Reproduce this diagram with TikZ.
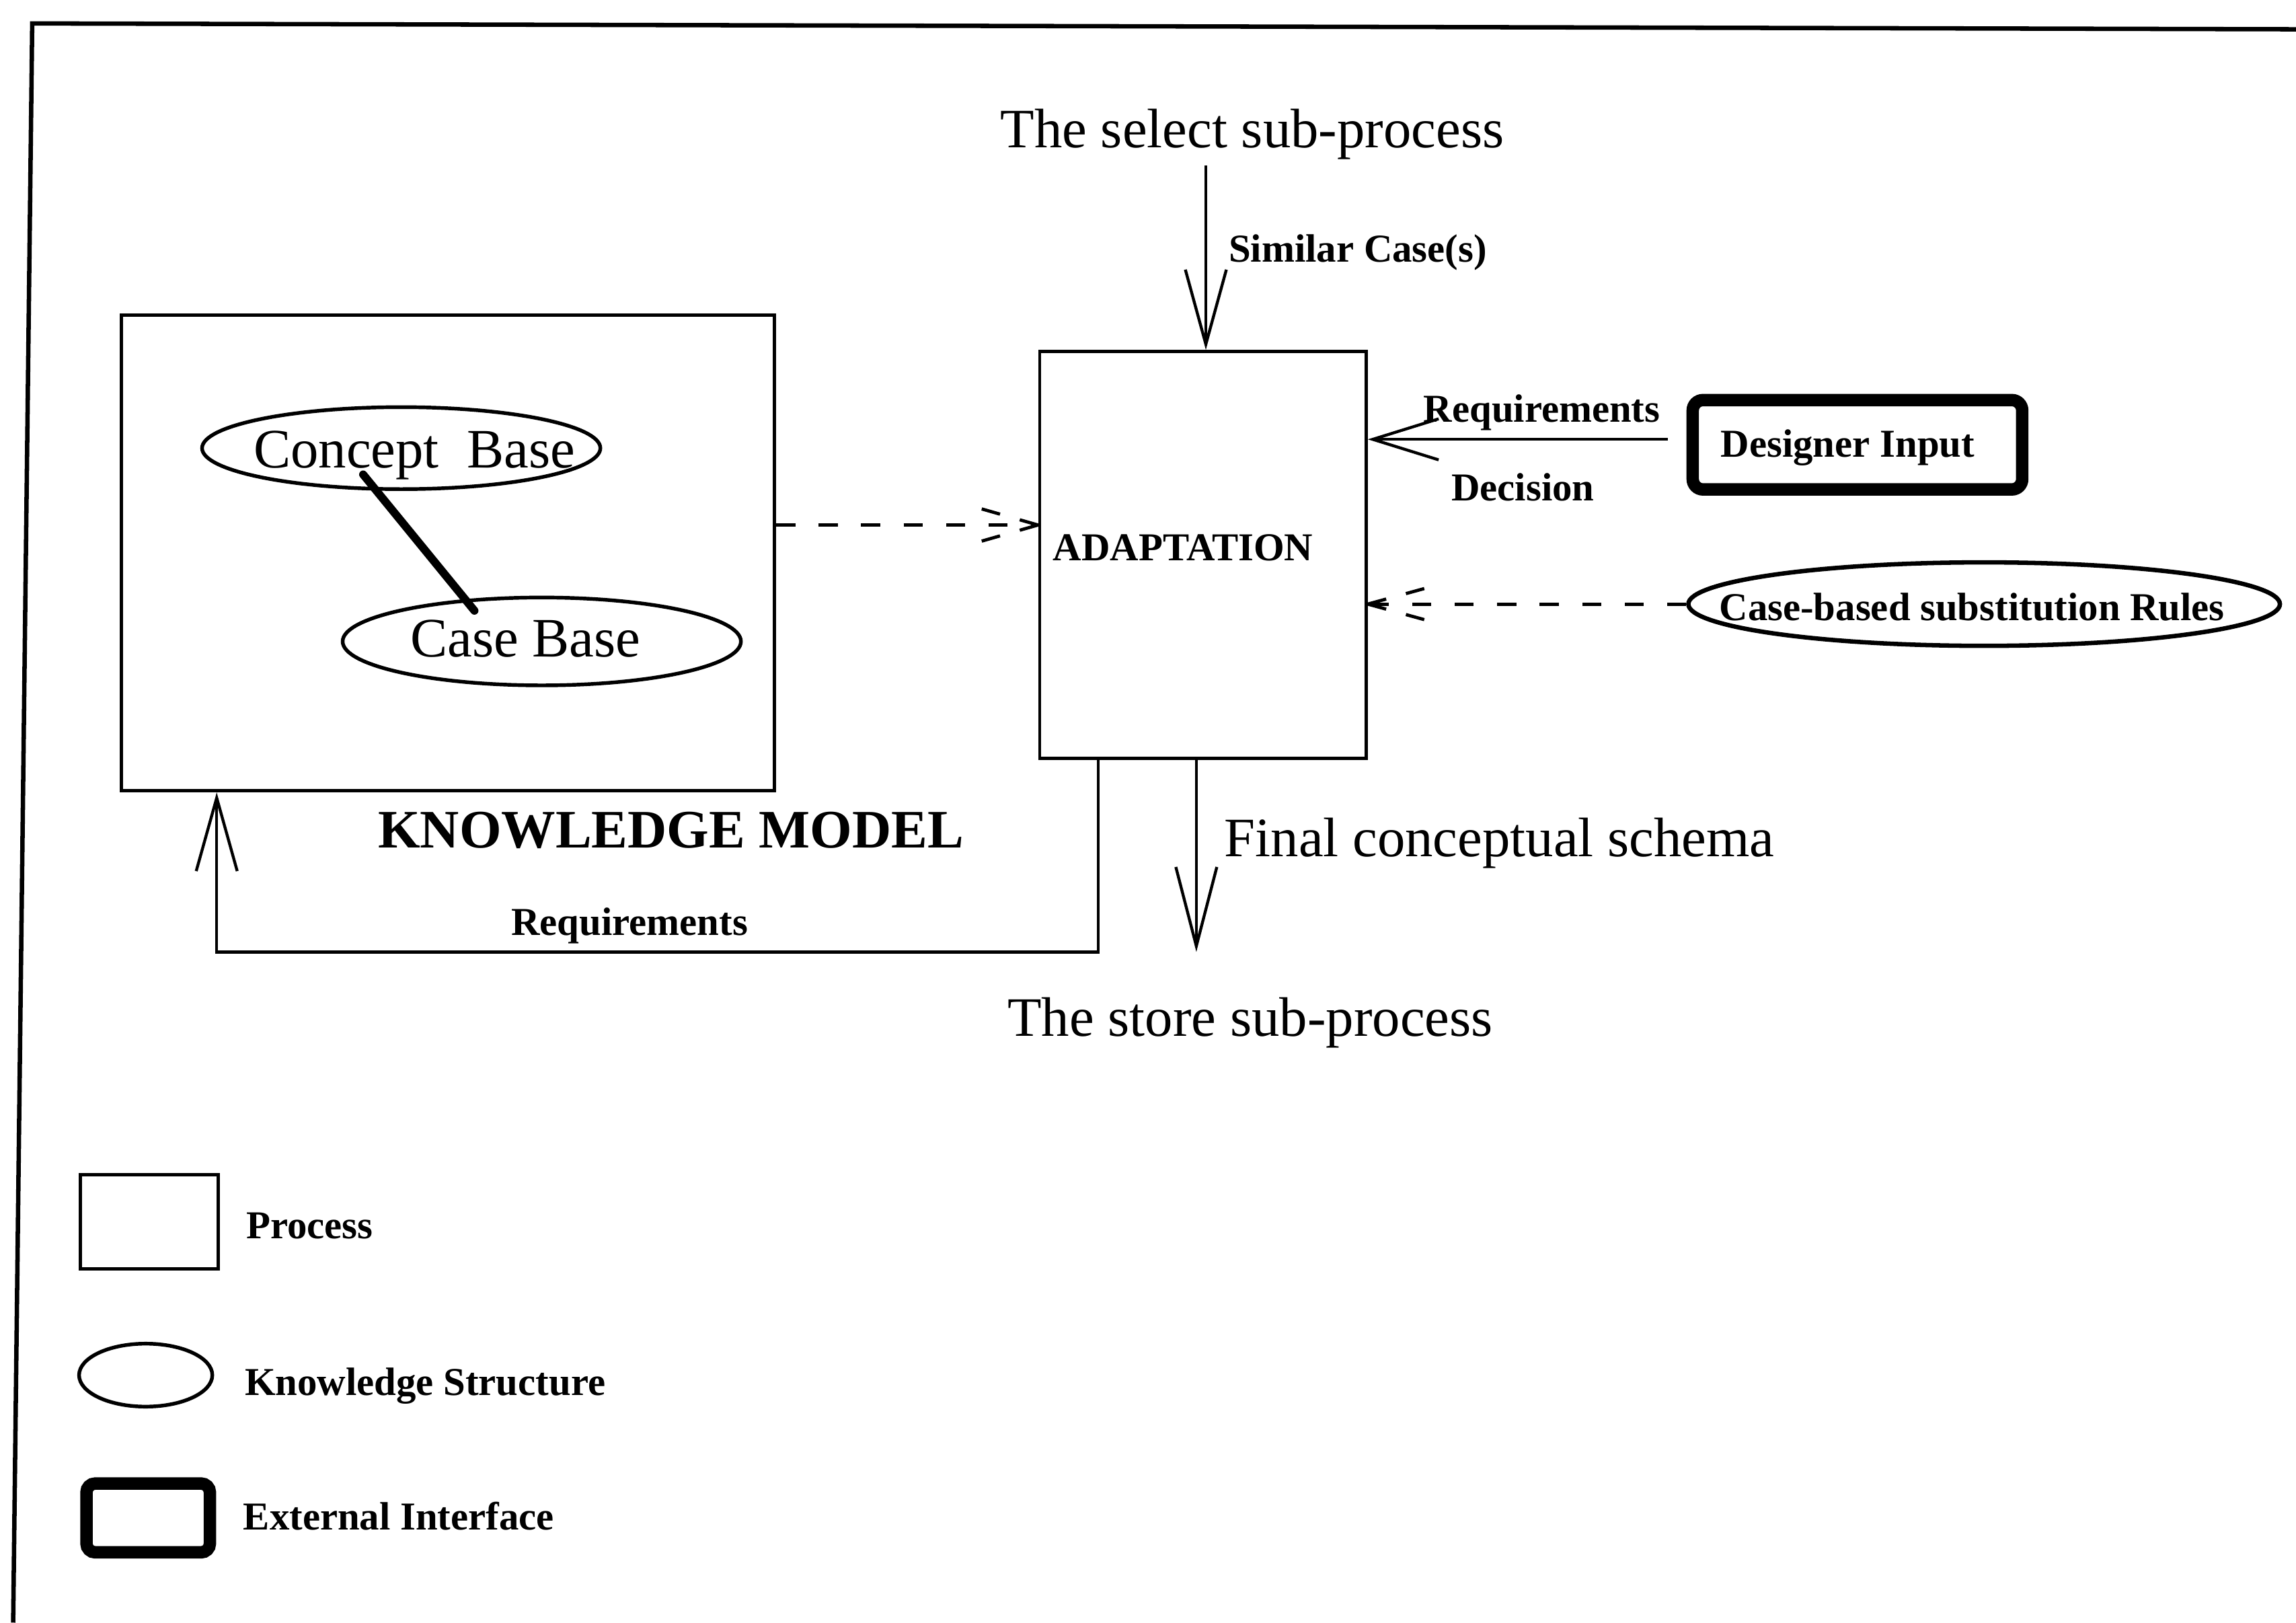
\documentclass[tikz,border=0pt]{standalone}
\usepackage{fontspec}
\setmainfont{Liberation Serif}
\usetikzlibrary{arrows.meta,shapes.geometric,calc}
\begin{document}
\begin{tikzpicture}[x=1pt,y=-1pt,
  bigtxt/.style={inner sep=0pt, anchor=base west, font=\fontsize{38}{40}\selectfont},
  smalltxt/.style={inner sep=0pt, anchor=base west, font=\fontsize{27}{29}\selectfont\bfseries},
  procbox/.style={draw, line width=2.2pt, rectangle, inner sep=0pt},
  knowledge/.style={draw, line width=2.5pt, ellipse, inner sep=0pt},
  interface/.style={draw, line width=8.5pt, rectangle, rounded corners=7pt, inner sep=0pt},
  flow/.style={line width=2pt, -{Straight Barb[length=#1,width=28pt]}},
  flow/.default=53pt,
  dataflow/.style={line width=2.2pt, dash pattern=on 13pt off 16pt},
  barbarm/.style={line width=2.2pt, dash pattern=on 13pt off 14pt},
]
\useasboundingbox (0,0) rectangle (1568,1108);

% outer frame, open on the right and at the bottom
\draw[line width=3pt] (9,1108) -- (22,16) -- (1568,20);

% processes and knowledge structures
\node[procbox, minimum width=446pt, minimum height=325pt] (km) at (306,377.5) {};
\node[procbox, minimum width=223pt, minimum height=278pt] (adapt) at (821.5,379) {};
\node[knowledge, minimum width=272pt, minimum height=56pt] (concept) at (274,306) {};
\node[knowledge, minimum width=272pt, minimum height=60pt] (casebase) at (370,438) {};
\node[knowledge, line width=3pt, minimum width=404pt, minimum height=57pt] (rules) at (1355,412.5) {};
\node[interface, minimum width=225pt, minimum height=61pt] (designer) at (1268.5,303.7) {};

% labels
\node[bigtxt] (selecttxt) at (683,100.8) {The select sub-process};
\node[bigtxt] (storetxt) at (688,707.4) {The store sub-process};
\node[bigtxt] (finaltxt) at (836,585) {Final conceptual schema};
\node[bigtxt] (concepttxt) at (173,319.5) {Concept\ \ Base};
\node[bigtxt] (casetxt) at (280,448.5) {Case Base};
\node[bigtxt, font=\fontsize{37}{40}\selectfont\bfseries] (kmtxt) at (258,579) {KNOWLEDGE MODEL};
\node[smalltxt] (adapttxt) at (719,383) {ADAPTATION};
\node[smalltxt] (similartxt) at (839,179) {Similar Case(s)};
\node[smalltxt] (reqtoptxt) at (972,288) {Requirements};
\node[smalltxt] (decisiontxt) at (991,342) {Decision};
\node[smalltxt] (designertxt) at (1175,312.3) {Designer Input};
\node[smalltxt] (rulestxt) at (1174,423.5) {Case-based substitution Rules};
\node[smalltxt] (reqbottxt) at (349,638.8) {Requirements};

% legend
\node[procbox, minimum width=94pt, minimum height=64.6pt] (legproc) at (102,834.3) {};
\node[knowledge, minimum width=91pt, minimum height=43pt] (legknow) at (99.5,939) {};
\node[interface, minimum width=84.3pt, minimum height=47pt, rounded corners=6pt] (legext) at (101.2,1036.5) {};
\node[smalltxt] (legproctxt) at (168,845.6) {Process};
\node[smalltxt] (legknowtxt) at (167,953) {Knowledge Structure};
\node[smalltxt] (legexttxt) at (166,1044.6) {External Interface};

% link between the two bases
\draw[line width=5.5pt, line cap=round] ([shift={(-26,18)}]concept.center) -- ([shift={(-46,-21)}]casebase.center);

% select sub-process -> adaptation
\coordinate (selfoot) at (823.5,113);
\draw[flow=51pt] (selfoot) -- (selfoot |- adapt.north);

% designer input -> adaptation
\coordinate (dsrc) at (1139,300);
\draw[flow=45pt] (dsrc) -- (dsrc -| adapt.east);

% knowledge model -> adaptation (dashed)
\coordinate (kmport) at ([yshift=19pt]km.east);
\coordinate (kmtip) at (kmport -| adapt.west);
\draw[dataflow] (kmport) -- (kmtip);
\draw[barbarm] (kmtip) -- ++(-42,-12);
\draw[barbarm] (kmtip) -- ++(-42,12);

% substitution rules -> adaptation (dashed)
\coordinate (rulestip) at (rules.west -| adapt.east);
\draw[dataflow] (rules.west) -- (rulestip);
\draw[barbarm] (rulestip) -- ++(40,-11);
\draw[barbarm] (rulestip) -- ++(40,11);

% requirements fed back to the knowledge model
\draw[flow=50pt] ([xshift=-71.5pt]adapt.south) -- ++(0,131) -| ([xshift=-158pt]km.south);

% adaptation -> store sub-process
\coordinate (finalend) at (817,650);
\draw[flow=54pt] (finalend |- adapt.south) -- (finalend);
\end{tikzpicture}
\end{document}
